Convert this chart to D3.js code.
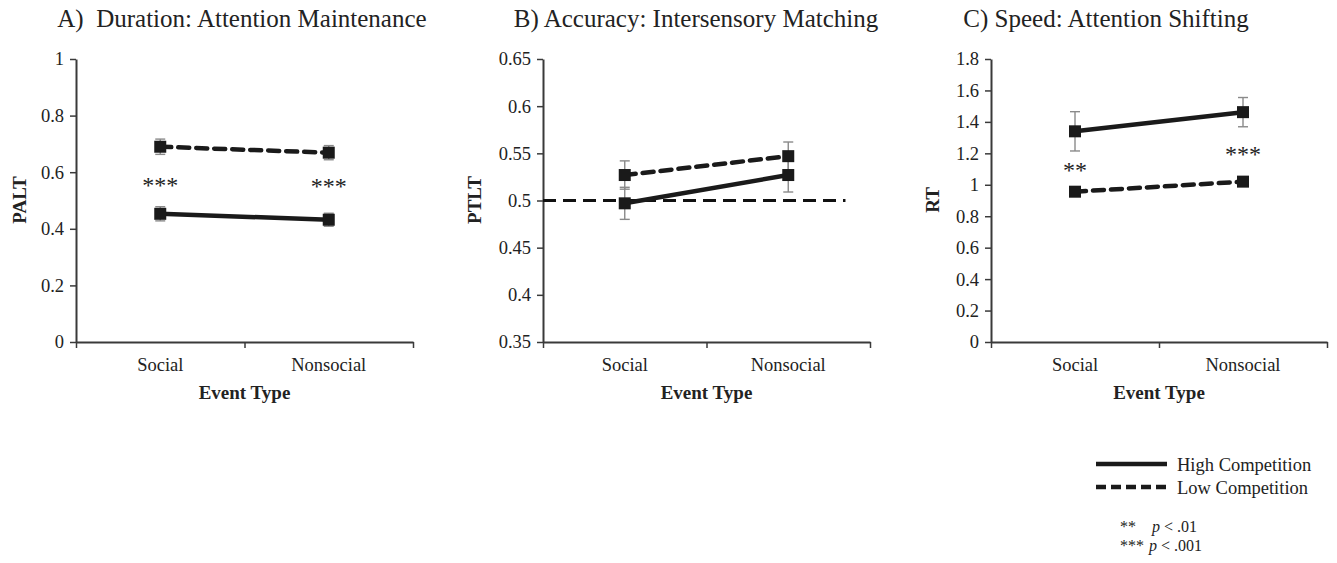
<!DOCTYPE html>
<html>
<head>
<meta charset="utf-8">
<script src="https://cdn.jsdelivr.net/npm/d3@7"></script>
<style>
  body { margin: 0; background: #fff; }
  svg { display: block; font-family: "Liberation Serif", "Times New Roman", serif; }
  text { fill: #222; }
</style>
</head>
<body>
<div id="chart"></div>
<script>
// categories and series
const categories = ["Social", "Nonsocial"];
const seriesNames = ["High Competition", "Low Competition"];

// A) duration (PALT)
const durationHigh = [0.453, 0.432];
const durationHighErr = [0.025, 0.023];
const durationLow = [0.690, 0.669];
const durationLowErr = [0.027, 0.025];

// B) accuracy (PTLT)
const accuracyHigh = [0.497, 0.527];
const accuracyHighErr = [0.017, 0.018];
const accuracyLow = [0.527, 0.547];
const accuracyLowErr = [0.015, 0.015];

// C) speed (RT)
const speedHigh = [1.340, 1.462];
const speedHighErr = [0.125, 0.093];
const speedLow = [0.956, 1.020];
const speedLowErr = [0.012, 0.012];

// tick labels
const durationTicks = [0, 0.2, 0.4, 0.6, 0.8, 1];
const accuracyTicks = [0.35, 0.4, 0.45, 0.5, 0.55, 0.6, 0.65];
const speedTicks = [0, 0.2, 0.4, 0.6, 0.8, 1, 1.2, 1.4, 1.6, 1.8];

// significance marks: [category index, value at mark centre, label]
const durationStars = [[0, 0.56, "***"], [1, 0.556, "***"]];
const speedStars = [[0, 1.10, "**"], [1, 1.20, "***"]];

const width = 1337, height = 563;

const svg = d3.select("#chart").append("svg")
    .attr("width", width)
    .attr("height", height);

const panels = [
    {title: "A)  Duration: Attention Maintenance", titleX: 242, yLabel: "PALT", yLabelX: 20,
     left: 76, right: 413, ticks: durationTicks, high: durationHigh, highErr: durationHighErr,
     low: durationLow, lowErr: durationLowErr, stars: durationStars, refLine: null},
    {title: "B) Accuracy: Intersensory Matching", titleX: 696, yLabel: "PTLT", yLabelX: 475,
     left: 543, right: 870, ticks: accuracyTicks, high: accuracyHigh, highErr: accuracyHighErr,
     low: accuracyLow, lowErr: accuracyLowErr, stars: [], refLine: 0.5},
    {title: "C) Speed: Attention Shifting", titleX: 1106, yLabel: "RT", yLabelX: 933,
     left: 991, right: 1327, ticks: speedTicks, high: speedHigh, highErr: speedHighErr,
     low: speedLow, lowErr: speedLowErr, stars: speedStars, refLine: null}
];

const plotTop = 59, plotBottom = 342;
const axisColor = "#3a3a3a";
const fmt = d3.format("~g");

panels.forEach(p => {
    const g = svg.append("g");

    const x = d3.scaleBand().domain(categories).range([p.left, p.right]).padding(0);
    const xEdge = d3.scaleLinear().domain([0, categories.length]).range([p.left, p.right]);
    const y = d3.scaleLinear().domain(d3.extent(p.ticks)).range([plotBottom, plotTop]);
    const cx = c => x(c) + x.bandwidth() / 2;

    svg.append("text")
        .attr("x", p.titleX)
        .attr("y", 27)
        .attr("text-anchor", "middle")
        .style("font-size", "25px")
        .style("white-space", "pre")
        .text(p.title);

    // y axis
    const yAxis = g.append("g")
        .attr("transform", `translate(${p.left},0)`)
        .call(d3.axisLeft(y).tickValues(p.ticks).tickFormat(fmt).tickSize(6).tickPadding(6).tickSizeOuter(0));
    yAxis.select(".domain").attr("stroke", axisColor).attr("stroke-width", 2);
    yAxis.selectAll(".tick line").attr("stroke", axisColor).attr("stroke-width", 1.5);
    yAxis.selectAll(".tick text")
        .style("font-size", "18.5px")
        .style("font-family", "Liberation Serif")
        .attr("fill", "#222");

    // x axis: edge ticks
    const xAxis = g.append("g")
        .attr("transform", `translate(0,${plotBottom})`)
        .call(d3.axisBottom(xEdge).tickValues(d3.range(categories.length + 1)).tickFormat("").tickSize(6).tickSizeOuter(0));
    xAxis.select(".domain").attr("stroke", axisColor).attr("stroke-width", 2);
    xAxis.selectAll(".tick line").attr("stroke", axisColor).attr("stroke-width", 1.5);

    // category labels
    const xLabels = g.append("g")
        .attr("transform", `translate(0,${plotBottom})`)
        .call(d3.axisBottom(x).tickSize(0).tickPadding(16));
    xLabels.select(".domain").remove();
    xLabels.selectAll(".tick text")
        .style("font-size", "18.5px")
        .style("font-family", "Liberation Serif")
        .attr("fill", "#222");

    g.append("text")
        .attr("x", (p.left + p.right) / 2)
        .attr("y", 399)
        .attr("text-anchor", "middle")
        .style("font-size", "19px")
        .style("font-weight", "bold")
        .text("Event Type");

    g.append("text")
        .attr("transform", `translate(${p.yLabelX + 6},200) rotate(-90)`)
        .attr("text-anchor", "middle")
        .style("font-size", "19px")
        .style("font-weight", "bold")
        .text(p.yLabel);

    // chance reference line
    if (p.refLine !== null) {
        g.append("line")
            .attr("x1", p.left)
            .attr("x2", p.left + (p.right - p.left) * 0.925)
            .attr("y1", y(p.refLine))
            .attr("y2", y(p.refLine))
            .attr("stroke", "#111")
            .attr("stroke-width", 3)
            .attr("stroke-dasharray", "13,7");
    }

    const series = [
        {name: seriesNames[0], values: p.high, err: p.highErr, dash: null},
        {name: seriesNames[1], values: p.low, err: p.lowErr, dash: "11,7"}
    ];

    // error bars
    series.forEach(s => {
        const eb = g.append("g").attr("stroke", "#8a8a8a").attr("stroke-width", 1.4);
        categories.forEach((c, i) => {
            const v = s.values[i], e = s.err[i];
            eb.append("line").attr("x1", cx(c)).attr("x2", cx(c)).attr("y1", y(v - e)).attr("y2", y(v + e));
            [v - e, v + e].forEach(w => {
                eb.append("line").attr("x1", cx(c) - 5).attr("x2", cx(c) + 5).attr("y1", y(w)).attr("y2", y(w));
            });
        });
    });

    const line = d3.line().x((d, i) => cx(categories[i])).y(d => y(d));

    series.forEach(s => {
        g.append("path")
            .datum(s.values)
            .attr("d", line)
            .attr("fill", "none")
            .attr("stroke", "#1a1a1a")
            .attr("stroke-width", 4.5)
            .attr("stroke-linecap", s.dash ? "round" : "butt")
            .attr("stroke-dasharray", s.dash);

        g.selectAll(null)
            .data(s.values)
            .join("rect")
            .attr("x", (d, i) => cx(categories[i]) - 6)
            .attr("y", d => y(d) - 6)
            .attr("width", 12)
            .attr("height", 12)
            .attr("fill", "#1a1a1a");
    });

    // significance stars
    g.selectAll(null)
        .data(p.stars)
        .join("text")
        .attr("x", d => cx(categories[d[0]]))
        .attr("y", d => y(d[1]) + 9)
        .attr("text-anchor", "middle")
        .style("font-size", "24px")
        .text(d => d[2]);
});

// legend
const legend = svg.append("g");
const legendItems = [
    {name: seriesNames[0], dash: null, y: 464},
    {name: seriesNames[1], dash: "10,5", y: 487}
];
legendItems.forEach(d => {
    legend.append("line")
        .attr("x1", 1096).attr("x2", 1167)
        .attr("y1", d.y).attr("y2", d.y)
        .attr("stroke", "#1a1a1a")
        .attr("stroke-width", 4.5)
        .attr("stroke-dasharray", d.dash);
    legend.append("text")
        .attr("x", 1177)
        .attr("y", d.y + 7)
        .style("font-size", "18.5px")
        .text(d.name);
});

const sigNotes = [["**", ".01", 532, 1152], ["***", ".001", 551, 1149]];
sigNotes.forEach(d => {
    const t = legend.append("text")
        .attr("y", d[2])
        .style("font-size", "16px");
    t.append("tspan").attr("x", 1120).text(d[0]);
    t.append("tspan").attr("x", d[3]).style("font-style", "italic").text("p");
    t.append("tspan").text(" < " + d[1]);
});
</script>
</body>
</html>
